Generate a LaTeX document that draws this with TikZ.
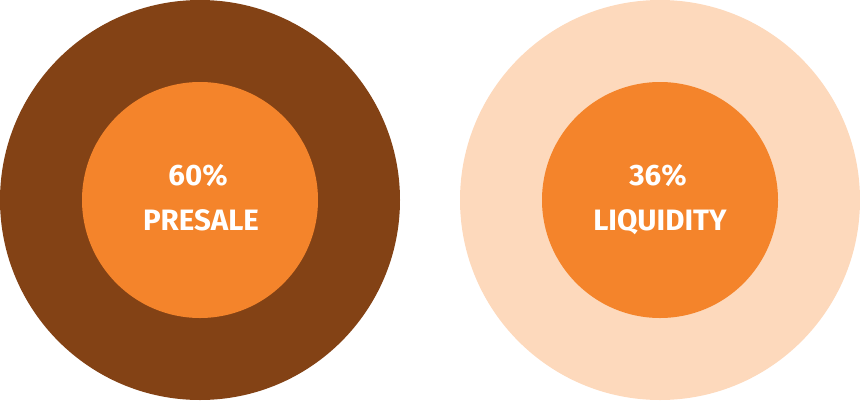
\documentclass[tikz,border=0pt]{standalone}
\usepackage{fontspec}
\setmainfont{Fira Sans}
\definecolor{brownc}{HTML}{834215}
\definecolor{orangec}{HTML}{F4842B}
\definecolor{peachc}{HTML}{FDD9BC}
\begin{document}
\begin{tikzpicture}[x=1pt,y=-1pt,
  lbl/.style={text=white,font=\fontsize{29.5}{29.5}\selectfont\bfseries,inner sep=0pt,anchor=base}]
\useasboundingbox (0,0) rectangle (860,400);
\fill[brownc] (200,200) circle[radius=200];
\fill[orangec] (200,200) circle[radius=118];
\fill[peachc] (660,200) circle[radius=200];
\fill[orangec] (660,200) circle[radius=118];
\node[lbl] (p1) at (198,185.5) {60\%};
\node[lbl] (p2) at (201,230.5) {PRESALE};
\node[lbl] (l1) at (658,185.5) {36\%};
\node[lbl] (l2) at (660,230.5) {LIQUIDITY};
\end{tikzpicture}
\end{document}
